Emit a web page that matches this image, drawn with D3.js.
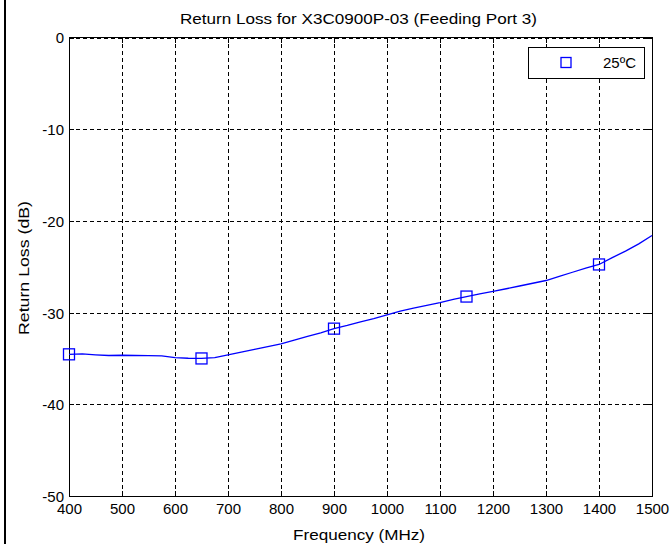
<!DOCTYPE html>
<html>
<head>
<meta charset="utf-8">
<script src="https://cdn.jsdelivr.net/npm/d3@7"></script>
<style>
  html, body { margin: 0; padding: 0; background: #fff; }
  svg { display: block; }
  text { font-family: "Liberation Sans", Arial, sans-serif; fill: #000; }
</style>
</head>
<body>
<svg id="chart" width="670" height="546"></svg>
<script>
// ---- data ----
const titleText = "Return Loss for X3C0900P-03 (Feeding Port 3)";
const xLabel = "Frequency (MHz)";
const yLabel = "Return Loss (dB)";
const legendLabel = "25ºC";
const xTicks = [400, 500, 600, 700, 800, 900, 1000, 1100, 1200, 1300, 1400, 1500];
const yTicks = [0, -10, -20, -30, -40, -50];
const freq = [400, 425, 450, 475, 500, 525, 550, 575, 600, 625, 650, 675, 700, 725, 750, 775, 800,
              825, 850, 875, 900, 925, 950, 975, 1000, 1025, 1050, 1075, 1100, 1125, 1150, 1175,
              1200, 1225, 1250, 1275, 1300, 1325, 1350, 1375, 1400, 1425, 1450, 1475, 1500];
const returnLoss = [-34.55, -34.5, -34.6, -34.68, -34.65, -34.68, -34.7, -34.72, -34.9, -34.98, -35.0,
                    -34.92, -34.6, -34.3, -34.0, -33.7, -33.4, -33.0, -32.6, -32.2, -31.75, -31.4,
                    -31.0, -30.65, -30.25, -29.85, -29.5, -29.2, -28.9, -28.55, -28.25, -27.95, -27.68,
                    -27.4, -27.1, -26.8, -26.5, -26.05, -25.6, -25.15, -24.75, -24.0, -23.3, -22.5, -21.6];
const markerFreq = [400, 650, 900, 1150, 1400];
const markerLoss = [-34.55, -35.0, -31.75, -28.25, -24.75];

// ---- layout ----
const svg = d3.select("#chart");
const L = 69, R = 652, T = 37.5, B = 496;
const W = R - L, H = B - T;
const x = d3.scaleLinear().domain([400, 1500]).range([L, R]);
const y = d3.scaleLinear().domain([-50, 0]).range([B, T]);
const blue = "#0000ff";
const fmt = d => String(d);

// page frame line on the left
svg.append("line").attr("x1", 5).attr("x2", 5).attr("y1", 0).attr("y2", 544)
  .attr("stroke", "#000").attr("stroke-width", 2);

// grid
const gridX = svg.append("g").attr("transform", `translate(0,${B})`)
  .call(d3.axisBottom(x).tickValues(xTicks).tickSize(-H).tickFormat(""));
const gridY = svg.append("g").attr("transform", `translate(${L},0)`)
  .call(d3.axisLeft(y).tickValues(yTicks).tickSize(-W).tickFormat(""));
[gridX, gridY].forEach(g => {
  g.select(".domain").remove();
  g.selectAll(".tick line").attr("stroke", "#000").attr("stroke-width", 1)
    .attr("stroke-dasharray", "4,3").attr("shape-rendering", "crispEdges");
});

// axes with inward ticks
const axB = svg.append("g").attr("transform", `translate(0,${B})`)
  .call(d3.axisBottom(x).tickValues(xTicks).tickSizeInner(-5).tickSizeOuter(0).tickPadding(7).tickFormat(fmt));
const axT = svg.append("g").attr("transform", `translate(0,${T})`)
  .call(d3.axisTop(x).tickValues(xTicks).tickSizeInner(-5).tickSizeOuter(0).tickFormat(""));
const axL = svg.append("g").attr("transform", `translate(${L},0)`)
  .call(d3.axisLeft(y).tickValues(yTicks).tickSizeInner(-5).tickSizeOuter(0).tickPadding(5).tickFormat(fmt));
const axR = svg.append("g").attr("transform", `translate(${R},0)`)
  .call(d3.axisRight(y).tickValues(yTicks).tickSizeInner(-5).tickSizeOuter(0).tickFormat(""));
[axB, axT, axL, axR].forEach(g => {
  g.select(".domain").remove();
  g.selectAll(".tick line").attr("stroke", "#000").attr("shape-rendering", "crispEdges");
  g.selectAll("text").style("font-size", "15px").attr("fill", "#000");
});
axL.selectAll("text").attr("dy", "0.36em");

// box
svg.append("rect").attr("x", L).attr("y", T).attr("width", W).attr("height", H)
  .attr("fill", "none").attr("stroke", "#000").attr("stroke-width", 1).attr("shape-rendering", "crispEdges");

// line
const pts = freq.map((f, i) => [f, returnLoss[i]]);
svg.append("path").datum(pts)
  .attr("fill", "none").attr("stroke", blue).attr("stroke-width", 1.3)
  .attr("d", d3.line().x(d => x(d[0])).y(d => y(d[1])));

// markers
const ms = 11;
svg.append("g").selectAll("rect").data(markerFreq.map((f, i) => [f, markerLoss[i]])).join("rect")
  .attr("x", d => x(d[0]) - ms / 2).attr("y", d => y(d[1]) - ms / 2)
  .attr("width", ms).attr("height", ms)
  .attr("fill", "none").attr("stroke", blue).attr("stroke-width", 1.3);

// legend
svg.append("rect").attr("x", 528).attr("y", 47.5).attr("width", 116).attr("height", 31)
  .attr("fill", "#fff").attr("stroke", "#000").attr("stroke-width", 1).attr("shape-rendering", "crispEdges");
svg.append("rect").attr("x", 561).attr("y", 57.5).attr("width", 10).attr("height", 10)
  .attr("fill", "none").attr("stroke", blue).attr("stroke-width", 1.3);
svg.append("text").attr("x", 636).attr("y", 68).attr("text-anchor", "end")
  .style("font-size", "15px").text(legendLabel);

// title and labels
svg.append("text").attr("x", 358.5).attr("y", 23.5).attr("text-anchor", "middle")
  .attr("textLength", 357).attr("lengthAdjust", "spacingAndGlyphs")
  .style("font-size", "15px").text(titleText);
svg.append("text").attr("x", 359).attr("y", 540).attr("text-anchor", "middle")
  .attr("textLength", 132).attr("lengthAdjust", "spacingAndGlyphs")
  .style("font-size", "15px").text(xLabel);
svg.append("text").attr("transform", `translate(29,268) rotate(-90)`).attr("text-anchor", "middle")
  .attr("textLength", 134).attr("lengthAdjust", "spacingAndGlyphs")
  .style("font-size", "15px").text(yLabel);
</script>
</body>
</html>
